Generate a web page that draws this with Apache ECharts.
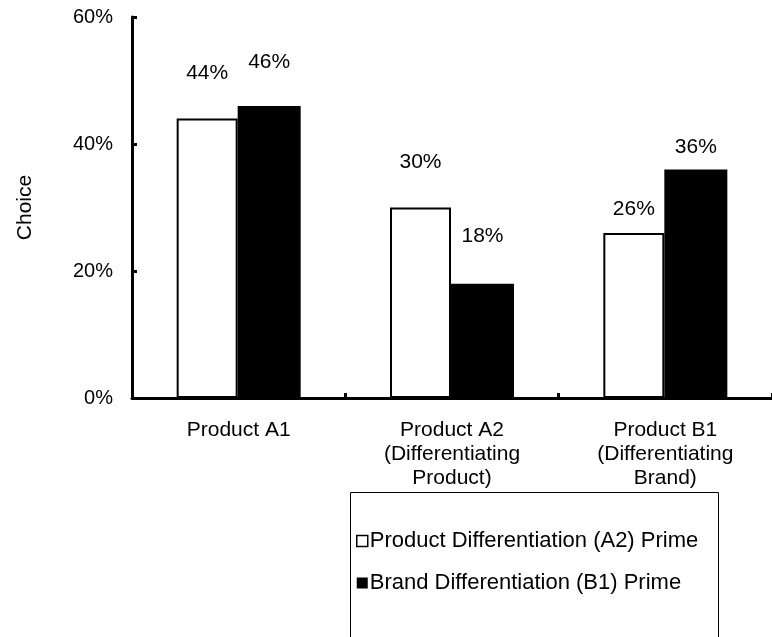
<!DOCTYPE html>
<html><head><meta charset="utf-8">
<script src="https://cdn.jsdelivr.net/npm/echarts@6/dist/echarts.min.js"></script>
<style>html,body{margin:0;padding:0;background:#fff}#c{width:772px;height:637px}</style>
</head><body><div id="c"></div>
<script>
const categories = ['Product A1', 'Product A2\n(Differentiating\nProduct)', 'Product B1\n(Differentiating\nBrand)'];
const seriesNames = ['Product Differentiation (A2) Prime', 'Brand Differentiation (B1) Prime'];
const productDiffValues = [44, 30, 26];
const brandDiffValues = [46, 18, 36];
const yTicks = [0, 20, 40, 60];

const FONT = '"Liberation Sans", Arial, sans-serif';
const chart = echarts.init(document.getElementById('c'), null, {renderer: 'canvas'});
const labelBase = {show: true, position: 'top', color: '#000', fontFamily: FONT, fontSize: 21, formatter: p => p.value + '%'};
function mk(vals, dists) {
  return vals.map((v, i) => ({value: v, label: {distance: dists[i]}}));
}
chart.setOption({
  animation: false,
  textStyle: {fontFamily: FONT},
  grid: {left: 132, right: -8, top: 17, bottom: 239, containLabel: false},
  graphic: [{
    type: 'rect', left: 348, top: 490, silent: true,
    shape: {width: 368, height: 200},
    style: {fill: 'none', stroke: '#000', lineWidth: 1}
  }],
  legend: {
    orient: 'vertical', left: 356, top: 530,
    data: [
      {name: seriesNames[0], icon: 'rect', itemStyle: {color: '#fff', borderColor: '#000', borderWidth: 1.5}},
      {name: seriesNames[1], icon: 'rect'}
    ],
    itemWidth: 11, itemHeight: 11, itemGap: 20,
    padding: 0,
    textStyle: {fontFamily: FONT, fontSize: 22, lineHeight: 22, color: '#000', padding: [0, 0, 0, -3]}
  },
  xAxis: {
    type: 'category', data: categories,
    axisLine: {lineStyle: {color: '#000', width: 3}},
    axisTick: {show: true, inside: true, length: 5, lineStyle: {color: '#000', width: 3}},
    axisLabel: {color: '#000', fontFamily: FONT, fontSize: 21, lineHeight: 24, margin: 20, interval: 0}
  },
  yAxis: {
    type: 'value', min: yTicks[0], max: yTicks[yTicks.length - 1], interval: 20,
    name: 'Choice', nameLocation: 'middle', nameRotate: 90, nameGap: 96,
    nameTextStyle: {color: '#000', fontFamily: FONT, fontSize: 21},
    axisLine: {show: true, lineStyle: {color: '#000', width: 3}},
    axisTick: {show: true, inside: true, length: 5, lineStyle: {color: '#000', width: 3}},
    splitLine: {show: false},
    axisLabel: {color: '#000', fontFamily: FONT, fontSize: 20, margin: 19, formatter: v => v + '%'}
  },
  series: [
    {name: seriesNames[0], type: 'bar', data: mk(productDiffValues, [35, 35, 13]),
     barWidth: 61, barGap: '0%',
     itemStyle: {color: '#fff', borderColor: '#000', borderWidth: 2}, label: labelBase},
    {name: seriesNames[1], type: 'bar', data: mk(brandDiffValues, [33, 37, 12]),
     barWidth: 63, barGap: '0%',
     itemStyle: {color: '#000'}, label: labelBase}
  ]
});
</script></body></html>
